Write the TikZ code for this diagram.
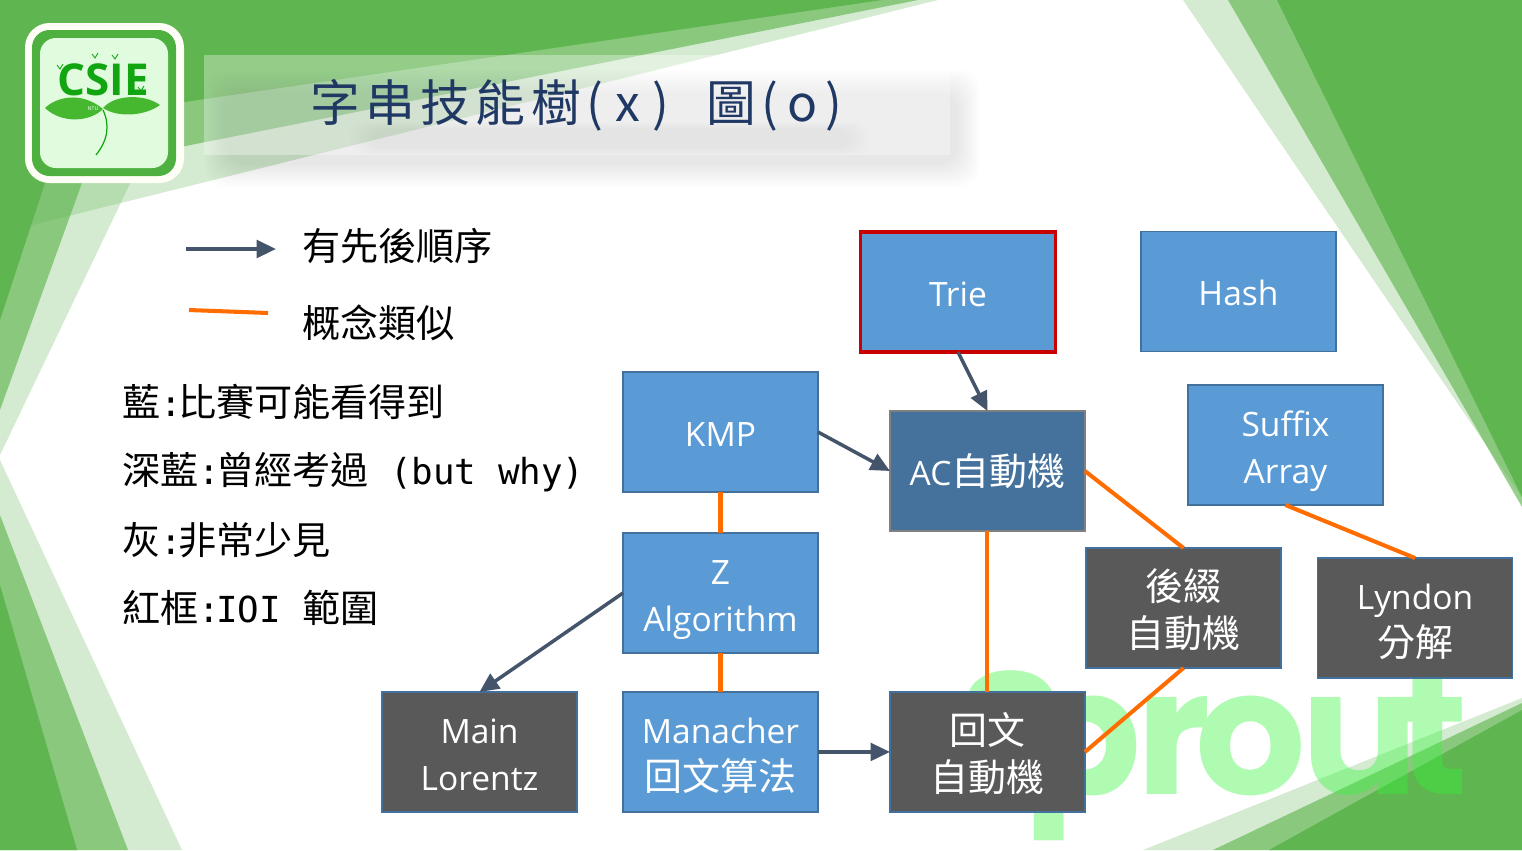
\documentclass[tikz,border=0pt]{standalone}
\usepackage{fontspec}
\setmainfont{Open Sans}
\newfontfamily\cjk{Noto Sans CJK TC}
\newfontfamily\cjkbox[Scale=1.13]{Noto Sans CJK TC}
\newfontfamily\cjktitle[LetterSpace=11]{Noto Sans CJK TC}
\newfontfamily\mn[Scale=.94]{DejaVu Sans Mono}
\newfontfamily\wmfont[LetterSpace=-3]{Poppins}
\newcommand{\lgcolon}{{\mn :}\kern-2.3pt}
\usepackage{xcolor}
\usetikzlibrary{positioning, arrows.meta, calc}
\definecolor{slgreen}{HTML}{5FB54F}
\definecolor{sllogo}{HTML}{4DB03F}
\definecolor{slleaf}{HTML}{45B82F}
\definecolor{slcsie}{HTML}{12A512}
\definecolor{sllogobg}{HTML}{E0FBDD}
\definecolor{slwater}{HTML}{36F53C}
\definecolor{sltitle}{HTML}{203864}
\definecolor{ndblue}{HTML}{5B9BD5}
\definecolor{nddeep}{HTML}{44729D}
\definecolor{ndgray}{HTML}{595959}
\definecolor{ndline}{HTML}{41719C}
\definecolor{ndred}{HTML}{C90000}
\definecolor{arrdark}{HTML}{44546A}
\definecolor{arrorange}{HTML}{FF6D00}

\begin{document}
\begin{tikzpicture}[
  x=0.02cm, y=-0.02cm,
  facet1/.style={fill=slgreen, fill opacity=.26, draw=none},
  facet2/.style={fill=slgreen, fill opacity=.63, draw=none},
  facet3/.style={fill=slgreen, draw=none},
  skill/.style={
    rectangle, draw=ndline, line width=0.9pt, fill=ndblue, text=white,
    minimum width=3.9cm, minimum height=2.4cm, outer sep=0pt,
    font=\fontsize{19.1}{26.5}\selectfont, align=center, inner sep=0pt,
    execute at begin node={\rule{0pt}{22pt}},
    execute at end node={\rule[-6pt]{0pt}{6pt}}
  },
  twoline/.style={execute at begin node={\rule{0pt}{49.5pt}}},
  twocjk/.style={execute at begin node={\rule{0pt}{51pt}}},
  deep/.style={skill, fill=nddeep, draw=gray},
  rare/.style={skill, fill=ndgray},
  ioi/.style={skill, draw=ndred, line width=2pt},
  order/.style={-{Triangle[length=11pt, width=10pt]}, line width=2pt, color=arrdark},
  alike/.style={line width=2.3pt, color=arrorange},
  legend/.style={anchor=west, inner sep=0pt, font=\fontsize{21.7}{26}\selectfont\cjk},
]
\useasboundingbox (0,0) rectangle (1522,850);

% Background facets
\fill[white] (0,0) rectangle (1522,850);
\fill[facet1] (0,0) -- (218,0) -- (0,455) -- cycle;
\fill[facet2] (0,0) -- (148,0) -- (0,410) -- cycle;
\fill[facet3] (0,0) -- (105,0) -- (0,320) -- cycle;
\fill[facet1] (0,850) -- (182,850) -- (0,460) -- cycle;
\fill[facet2] (0,850) -- (128,850) -- (0,515) -- cycle;
\fill[facet3] (0,850) -- (77,850) -- (0,585) -- cycle;
\fill[facet1] (0,0) -- (938,0) -- (0,233) -- cycle;
\fill[facet2] (0,0) -- (918,0) -- (0,183) -- cycle;
\fill[facet3] (0,0) -- (882,0) -- (0,129) -- cycle;
\fill[facet1] (1522,0) -- (1183,0) -- (1522,498) -- cycle;
\fill[facet2] (1522,0) -- (1228,0) -- (1522,507) -- cycle;
\fill[facet3] (1522,0) -- (1277,0) -- (1522,497) -- cycle;
\fill[facet1] (1522,850) -- (1143,850) -- (1522,698) -- cycle;
\fill[facet2] (1522,850) -- (1213,850) -- (1522,703) -- cycle;
\fill[facet3] (1522,850) -- (1269,850) -- (1522,710) -- cycle;

% Watermark
\begin{scope}[transparency group, opacity=.4]
\node[anchor=base west, inner sep=0pt, text=slwater,
  font=\fontsize{99}{99}\selectfont\wmfont\bfseries] (sprout) at (958,794) {S\kern-24pt p\kern-2.5pt r\kern-9pt ou\kern-12pt t};
\end{scope}

% Title bar and its shadow
\foreach \i in {0,...,11}
  \fill[black, fill opacity=.009, rounded corners=12pt]
    (204+\i*2,70+\i*2) rectangle (980-\i*2,187-\i*2);
\foreach \i in {0,...,7}
  \fill[black, fill opacity=.009, rounded corners=8pt]
    (350+\i*3,122+\i) rectangle (870-\i*3,155-\i);
\fill[white, fill opacity=.33] (204,55) rectangle (950,155);
\node[anchor=west, inner sep=0pt, text=sltitle,
  font=\fontsize{28.3}{34}\selectfont\cjktitle] (title) at (310,105)
  {字串技能樹(\kern7pt x\kern7pt )\hspace{0.74cm}圖(\kern5pt o\kern5pt )};

% Logo
\fill[white!97!yellow, rounded corners=14pt] (25,23) rectangle (184,183);
\fill[sllogo, rounded corners=10pt] (32,30) rectangle (176,176);
\fill[sllogobg, rounded corners=9pt] (40,38) rectangle (168,168);
\node[inner sep=0pt, text=slcsie, font=\fontsize{25}{25}\selectfont\bfseries] (csie) at (103,80) {CSIE};
\fill[slleaf] (45,108) .. controls (55,98) and (80,90) .. (103,109)
  .. controls (90,122) and (62,124) .. (45,108) -- cycle;
\fill[slleaf] (103,108) .. controls (115,94) and (145,94) .. (160,105)
  .. controls (145,116) and (118,118) .. (103,108) -- cycle;
\draw[slcsie, line width=0.7pt] (103,110) .. controls (110,125) and (108,140) .. (96,155);
\foreach \lx/\ly in {60/67, 95/56, 115/57, 141/89}
  \draw[slcsie, line width=0.5pt] (\lx-3,\ly-2) -- (\lx,\ly+2) -- (\lx+3,\ly-3);
\node[inner sep=0pt, text=white, font=\fontsize{3}{3}\selectfont] (ntu) at (93,109) {NTU};

% Legend
\coordinate (orderfrom) at (186,249);
\coordinate (orderto) at (276,249);
\coordinate (alikefrom) at (189,310);
\coordinate (aliketo) at (268,313);
\draw[order] (orderfrom) -- (orderto);
\draw[alike] (alikefrom) -- (aliketo);
\node[legend] (orderlabel) at (302,246) {有先後順序};
\node[legend] (alikelabel) at (302,323) {概念類似};
\node[legend] (blueline) at (122,402) {藍\lgcolon 比賽可能看得到};
\node[legend] (deepline) at (122,472) {深藍\lgcolon 曾經考過{\mn\ (but why)}};
\node[legend] (grayline) at (122,540) {灰\lgcolon 非常少見};
\node[legend] (redline) at (122,608) {紅框\lgcolon{\mn IOI }範圍};

% Skill boxes
\node[skill] (kmp) at (720.5,432) {KMP};
\node[skill, twoline, below=0.82cm of kmp] (zalgo) {Z\\Algorithm};
\node[skill, twoline, below=0.78cm of zalgo] (manacher) {Manacher\\{\cjkbox 回文算法}};
\node[rare, twoline, left=0.92cm of manacher] (lorentz) {Main\\Lorentz};
\node[rare, twocjk, right=1.44cm of manacher] (palin) {{\cjkbox 回文}\\{\cjkbox 自動機}};
\node[deep, above=3.22cm of palin] (ac) {AC{\cjkbox 自動機}};
\node[ioi] (trie) at (958,292) {Trie};
\node[skill] (hash) at (1238.5,291.5) {Hash};
\node[skill, twoline] (suffix) at (1285.5,445) {Suffix\\Array};
\node[rare, twocjk] (sam) at (1183.5,608) {{\cjkbox 後綴}\\{\cjkbox 自動機}};
\node[rare, twoline] (lyndon) at (1415,618) {Lyndon\\{\cjkbox 分解}};

% Arrows
\draw[order] (trie.south) -- (ac.north);
\draw[order] (kmp.east) -- (ac.west);
\draw[order] (zalgo.west) -- (lorentz.north);
\draw[order] (manacher.east) -- (palin.west);

% Similar concepts
\draw[alike] (kmp) -- (zalgo);
\draw[alike] (zalgo) -- (manacher);
\draw[alike] (ac.south) -- (palin.north);
\draw[alike] (ac.east) -- (sam.north);
\draw[alike] (sam.south) -- (palin.east);
\draw[alike] (suffix.south) -- (lyndon.north);

\end{tikzpicture}
\end{document}
